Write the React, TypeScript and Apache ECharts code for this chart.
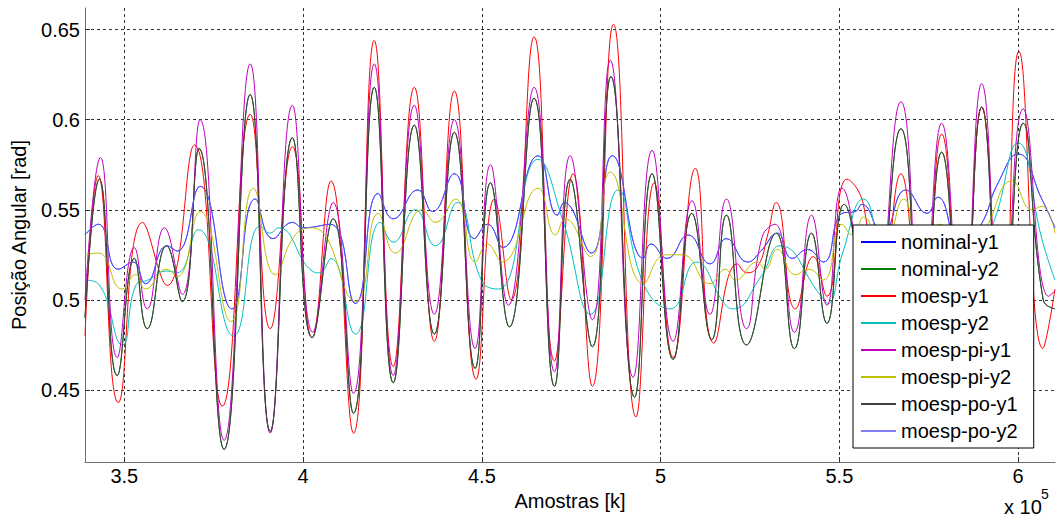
import React, { useEffect, useRef } from 'react';
import * as echarts from 'echarts';

const FONT = "'Liberation Sans', Arial, sans-serif";

const xTicks = [3.5, 4, 4.5, 5, 5.5, 6];
const yTicks = [0.45, 0.5, 0.55, 0.6, 0.65];
const seriesNames = [
  'nominal-y1', 'nominal-y2', 'moesp-y1', 'moesp-y2',
  'moesp-pi-y1', 'moesp-pi-y2', 'moesp-po-y1', 'moesp-po-y2',
];
const seriesColors = [
  '#0000ff', '#008000', '#ff0000', '#00bfbf',
  '#bf00bf', '#bfbf00', '#404040', '#8080ff',
];

// x in units of 10^5 samples, y in rad
const nominalY1 = [
  [3.39, 0.536], [3.427, 0.542], [3.483, 0.517], [3.525, 0.521], [3.559, 0.509],
  [3.62, 0.53], [3.648, 0.527], [3.712, 0.563], [3.801, 0.495], [3.866, 0.556],
  [3.916, 0.534], [3.97, 0.543], [4.0, 0.54], [4.076, 0.542], [4.146, 0.498],
  [4.21, 0.559], [4.252, 0.545], [4.321, 0.561], [4.362, 0.549], [4.423, 0.57],
  [4.479, 0.534], [4.516, 0.542], [4.558, 0.529], [4.657, 0.58], [4.711, 0.547],
  [4.73, 0.554], [4.806, 0.526], [4.865, 0.58], [4.952, 0.523], [4.973, 0.531],
  [5.018, 0.523], [5.077, 0.536], [5.138, 0.52], [5.184, 0.534], [5.243, 0.521],
  [5.28, 0.527], [5.326, 0.537], [5.368, 0.523], [5.41, 0.528], [5.455, 0.521],
  [5.507, 0.548], [5.544, 0.549], [5.563, 0.553], [5.62, 0.537], [5.686, 0.561],
  [5.745, 0.548], [5.775, 0.557], [5.84, 0.53], [5.894, 0.541], [5.944, 0.565],
  [6.0, 0.581], [6.066, 0.556], [6.103, 0.54],
];

const moespPoY1 = [
  [3.39, 0.49], [3.43, 0.567], [3.48, 0.458], [3.528, 0.523], [3.564, 0.484],
  [3.618, 0.53], [3.662, 0.499], [3.709, 0.584], [3.779, 0.417], [3.852, 0.614],
  [3.908, 0.427], [3.97, 0.59], [4.025, 0.479], [4.084, 0.545], [4.141, 0.437],
  [4.199, 0.618], [4.252, 0.454], [4.311, 0.597], [4.367, 0.481], [4.423, 0.593],
  [4.481, 0.462], [4.524, 0.565], [4.577, 0.485], [4.646, 0.612], [4.703, 0.452],
  [4.747, 0.567], [4.809, 0.474], [4.861, 0.624], [4.927, 0.446], [4.976, 0.57],
  [5.035, 0.467], [5.087, 0.548], [5.143, 0.478], [5.184, 0.547], [5.24, 0.475],
  [5.323, 0.537], [5.374, 0.473], [5.422, 0.537], [5.465, 0.487], [5.513, 0.553],
  [5.59, 0.48], [5.672, 0.595], [5.73, 0.47], [5.786, 0.582], [5.843, 0.47],
  [5.898, 0.607], [5.955, 0.47], [6.014, 0.598], [6.07, 0.5], [6.103, 0.495],
];

const nominalY2 = moespPoY1;

const moespY1 = [
  [3.39, 0.48], [3.427, 0.569], [3.483, 0.443], [3.551, 0.543], [3.62, 0.508],
  [3.696, 0.586], [3.774, 0.441], [3.852, 0.603], [3.908, 0.484], [3.97, 0.585],
  [4.025, 0.479], [4.078, 0.566], [4.141, 0.426], [4.199, 0.644], [4.252, 0.463],
  [4.311, 0.618], [4.367, 0.477], [4.423, 0.616], [4.484, 0.456], [4.535, 0.556],
  [4.582, 0.5], [4.646, 0.646], [4.703, 0.466], [4.755, 0.57], [4.809, 0.452],
  [4.868, 0.653], [4.931, 0.435], [4.982, 0.565], [5.035, 0.468], [5.097, 0.573],
  [5.149, 0.476], [5.214, 0.52], [5.242, 0.515], [5.273, 0.519], [5.298, 0.535],
  [5.323, 0.554], [5.377, 0.495], [5.427, 0.524], [5.465, 0.502], [5.521, 0.567],
  [5.567, 0.553], [5.61, 0.48], [5.672, 0.57], [5.73, 0.475], [5.786, 0.592],
  [5.843, 0.47], [5.898, 0.607], [5.955, 0.465], [6.002, 0.638], [6.069, 0.473],
  [6.103, 0.506],
];

const moespY2 = [
  [3.39, 0.511], [3.427, 0.509], [3.494, 0.475], [3.532, 0.508], [3.566, 0.511],
  [3.62, 0.516], [3.648, 0.515], [3.707, 0.539], [3.805, 0.48], [3.88, 0.541],
  [3.908, 0.537], [3.93, 0.54], [4.025, 0.516], [4.045, 0.515], [4.078, 0.523],
  [4.146, 0.481], [4.216, 0.543], [4.252, 0.532], [4.313, 0.55], [4.37, 0.53],
  [4.431, 0.554], [4.501, 0.51], [4.547, 0.506], [4.657, 0.578], [4.725, 0.545],
  [4.804, 0.492], [4.881, 0.561], [4.952, 0.509], [5.027, 0.495], [5.1, 0.521],
  [5.178, 0.498], [5.202, 0.495], [5.281, 0.513], [5.334, 0.53], [5.449, 0.502],
  [5.468, 0.498], [5.509, 0.526], [5.568, 0.556], [5.64, 0.52], [5.7, 0.53],
  [5.78, 0.51], [5.86, 0.52], [5.927, 0.541], [6.0, 0.587], [6.066, 0.534],
  [6.103, 0.511],
];

const moespPiY1 = [
  [3.39, 0.5], [3.433, 0.579], [3.48, 0.468], [3.528, 0.529], [3.564, 0.495],
  [3.612, 0.54], [3.662, 0.503], [3.712, 0.6], [3.779, 0.422], [3.852, 0.631],
  [3.908, 0.426], [3.97, 0.608], [4.027, 0.482], [4.084, 0.554], [4.141, 0.448],
  [4.199, 0.631], [4.252, 0.458], [4.311, 0.608], [4.367, 0.492], [4.423, 0.6],
  [4.481, 0.473], [4.524, 0.575], [4.574, 0.497], [4.646, 0.618], [4.703, 0.46],
  [4.747, 0.58], [4.809, 0.489], [4.859, 0.633], [4.923, 0.457], [4.976, 0.583],
  [5.035, 0.477], [5.088, 0.555], [5.138, 0.492], [5.184, 0.556], [5.24, 0.484],
  [5.284, 0.535], [5.32, 0.542], [5.374, 0.482], [5.422, 0.547], [5.465, 0.497],
  [5.507, 0.562], [5.59, 0.485], [5.672, 0.61], [5.73, 0.48], [5.786, 0.598],
  [5.843, 0.48], [5.898, 0.62], [5.955, 0.475], [6.014, 0.606], [6.085, 0.502],
  [6.103, 0.505],
];

const moespPiY2 = [
  [3.39, 0.525], [3.427, 0.526], [3.494, 0.506], [3.532, 0.514], [3.559, 0.506],
  [3.617, 0.517], [3.648, 0.513], [3.712, 0.549], [3.798, 0.488], [3.861, 0.562],
  [3.922, 0.514], [3.978, 0.536], [4.028, 0.54], [4.146, 0.499], [4.21, 0.548],
  [4.258, 0.526], [4.333, 0.55], [4.37, 0.543], [4.426, 0.556], [4.482, 0.521],
  [4.515, 0.531], [4.557, 0.521], [4.657, 0.562], [4.706, 0.536], [4.733, 0.545],
  [4.804, 0.524], [4.859, 0.571], [4.952, 0.509], [5.013, 0.525], [5.06, 0.525],
  [5.138, 0.509], [5.181, 0.517], [5.209, 0.511], [5.27, 0.521], [5.292, 0.517],
  [5.326, 0.528], [5.377, 0.514], [5.414, 0.517], [5.455, 0.511], [5.507, 0.542],
  [5.536, 0.536], [5.568, 0.546], [5.62, 0.525], [5.68, 0.556], [5.73, 0.522],
  [5.781, 0.542], [5.845, 0.52], [5.91, 0.54], [5.983, 0.566], [6.039, 0.55],
  [6.066, 0.552], [6.103, 0.537],
];

const moespPoY2 = nominalY1;

const seriesData = [
  nominalY1, nominalY2, moespY1, moespY2,
  moespPiY1, moespPiY2, moespPoY1, moespPoY2,
];
const seriesOpacity = [1, 1, 1, 1, 1, 1, 1, 0.55];

export default function App() {
  const ref = useRef<HTMLDivElement>(null);

  useEffect(() => {
    const chart = echarts.init(ref.current as HTMLDivElement, null, { renderer: 'svg' });
    const series = seriesNames.map((name, i) => ({
      name,
      type: 'line',
      data: seriesData[i],
      smooth: 0.5,
      symbol: 'none',
      showSymbol: false,
      color: seriesColors[i],
      itemStyle: { color: seriesColors[i] },
      lineStyle: { color: seriesColors[i], width: 1, opacity: seriesOpacity[i] },
      emphasis: { disabled: true },
    }));
    chart.setOption({
      animation: false,
      backgroundColor: '#ffffff',
      textStyle: { fontFamily: FONT },
      grid: { left: 85, right: 2, top: 8, bottom: 60 },
      xAxis: {
        type: 'value',
        min: 3.39,
        max: 6.103,
        name: 'Amostras [k]',
        nameLocation: 'middle',
        nameGap: 26,
        nameTextStyle: { fontSize: 20, color: '#000', fontFamily: FONT },
        axisLine: { show: true, lineStyle: { color: '#6e6e6e', width: 1 } },
        axisTick: { show: true, inside: true, length: 5, customValues: xTicks, lineStyle: { color: '#303030' } },
        axisLabel: { customValues: xTicks, fontSize: 20, color: '#000', margin: 4, fontFamily: FONT },
        splitLine: { show: true, lineStyle: { color: '#000', width: 1, type: [3, 3], opacity: 0.8 } },
      },
      yAxis: {
        type: 'value',
        min: 0.41,
        max: 0.662,
        name: 'Posição Angular [rad]',
        nameLocation: 'middle',
        nameGap: 56,
        nameTextStyle: { fontSize: 20, color: '#000', fontFamily: FONT },
        axisLine: { show: true, lineStyle: { color: '#6e6e6e', width: 1 } },
        axisTick: { show: true, inside: true, length: 5, customValues: yTicks, lineStyle: { color: '#303030' } },
        axisLabel: { customValues: yTicks, fontSize: 20, color: '#000', margin: 5, fontFamily: FONT },
        splitLine: { show: true, lineStyle: { color: '#000', width: 1, type: [3, 3], opacity: 0.8 } },
      },
      legend: {
        orient: 'vertical',
        left: 853,
        top: 225,
        data: seriesNames,
        icon: 'rect',
        backgroundColor: '#ffffff',
        borderColor: '#000000',
        borderWidth: 1,
        borderRadius: 0,
        padding: [7, 16, 7, 8],
        itemGap: 7,
        itemWidth: 35,
        itemHeight: 2,
        selectedMode: false,
        textStyle: { fontSize: 20, color: '#000', lineHeight: 20, fontFamily: FONT },
      },
      graphic: [
        { type: 'text', left: 1004, top: 497, style: { text: 'x 10', fontSize: 20, fill: '#000', font: `20px ${FONT}` } },
        { type: 'text', left: 1041, top: 487, style: { text: '5', fontSize: 14, fill: '#000', font: `14px ${FONT}` } },
      ],
      series,
    });
    return () => chart.dispose();
  }, []);

  return (
    <div
      ref={ref}
      style={{ position: 'absolute', left: 0, top: 0, width: 1057, height: 522, background: '#fff' }}
    />
  );
}
